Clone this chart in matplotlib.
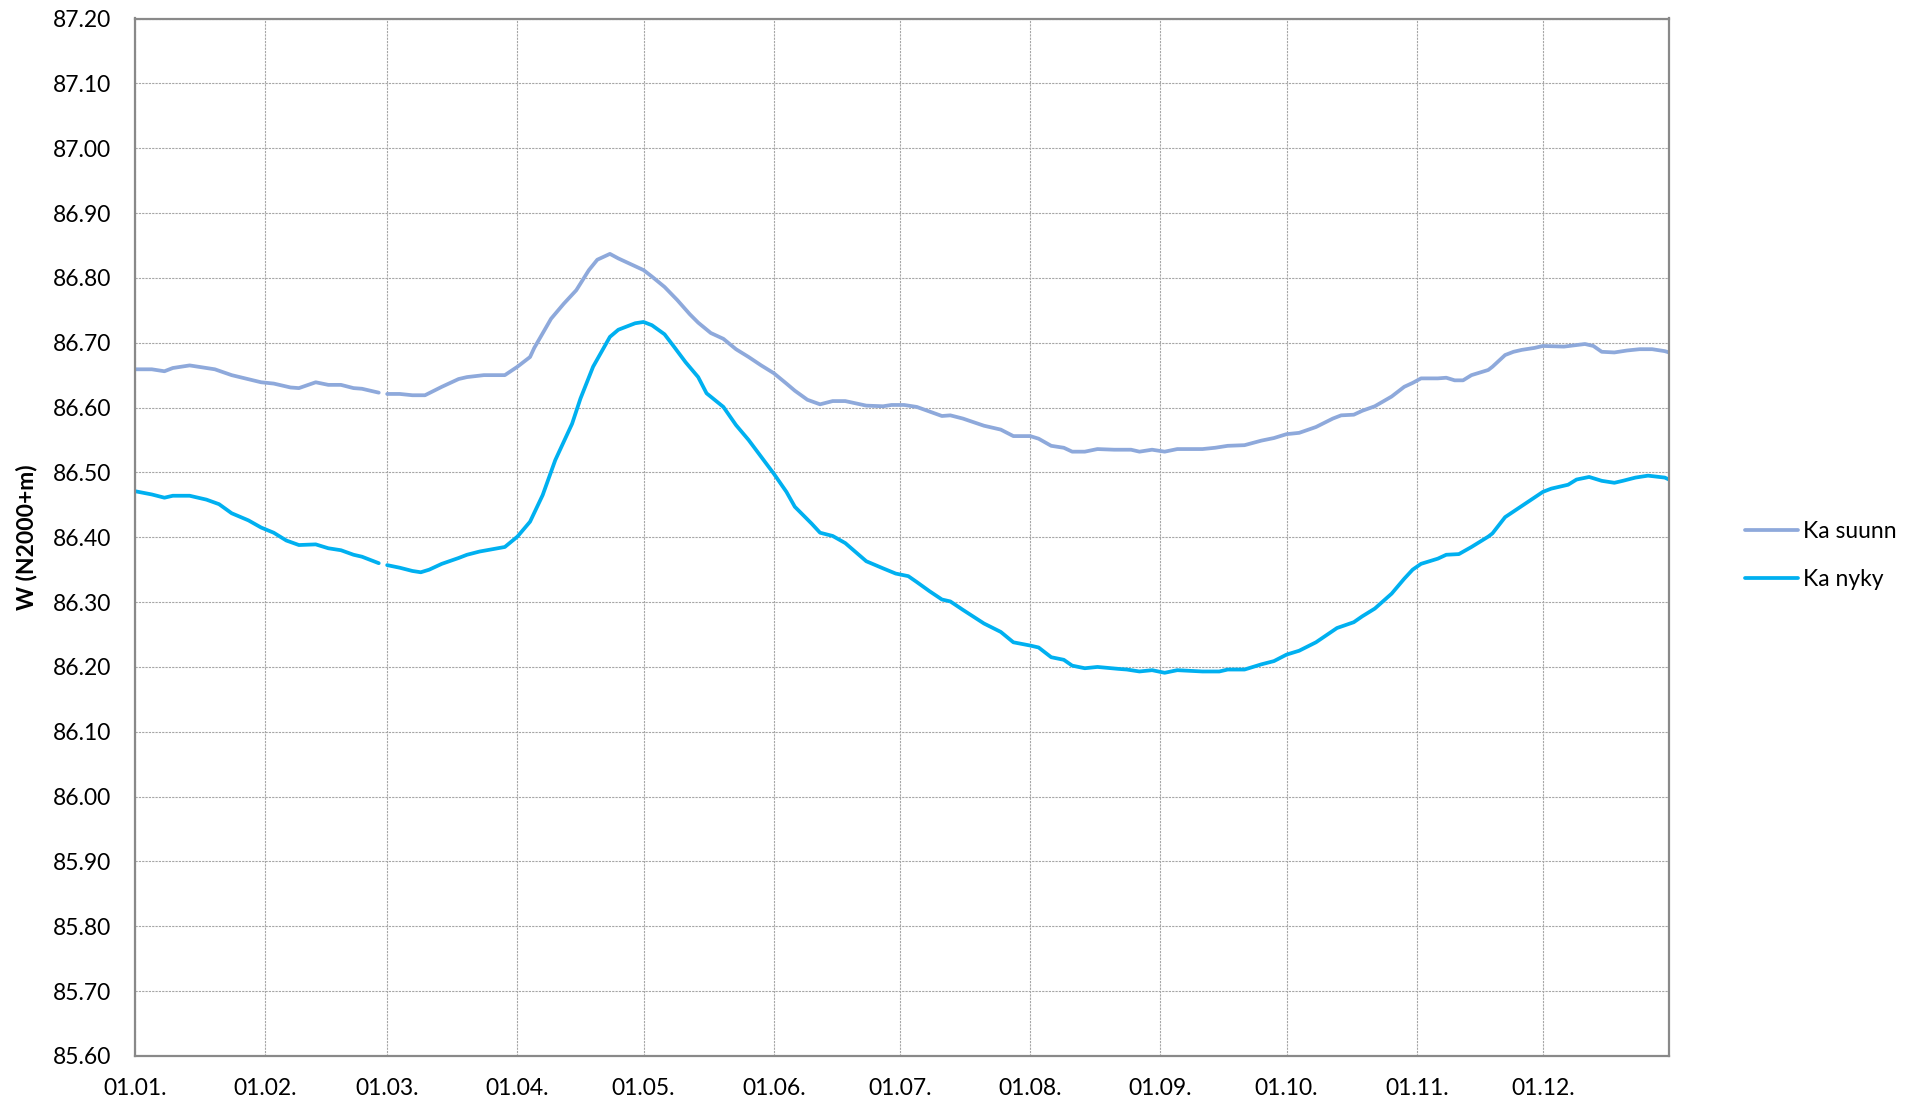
import matplotlib
matplotlib.use("Agg")
import matplotlib.pyplot as plt
import numpy as np

plt.rcParams['font.family'] = ['Lato', 'DejaVu Sans']

# month starts (leap year day index) and labels
month_days = [0, 31, 60, 91, 121, 152, 182, 213, 244, 274, 305, 335]
month_labels = ["01.01.", "01.02.", "01.03.", "01.04.", "01.05.", "01.06.",
                "01.07.", "01.08.", "01.09.", "01.10.", "01.11.", "01.12."]

# Ka suunn, gap on 29.2.
suunn_days = [0, 4, 7, 9, 13, 19, 23, 30, 33, 37, 39, 43, 46, 49, 52, 54, 58, 59,
              60, 63, 66, 69, 73, 77, 79, 83, 88, 91, 94, 95, 99, 102, 105, 108,
              110, 113, 115, 118, 121, 123, 126, 129, 132, 134, 137, 140, 143,
              146, 149, 152, 155, 157, 160, 163, 166, 169, 174, 178, 180, 183,
              186, 189, 192, 194, 197, 202, 206, 209, 213, 215, 218, 221, 223,
              226, 229, 233, 237, 239, 242, 245, 248, 254, 257, 260, 264, 268,
              271, 274, 277, 281, 285, 287, 290, 292, 295, 299, 302, 304, 306,
              310, 312, 314, 316, 318, 322, 323, 326, 328, 330, 333, 335, 340,
              345, 347, 349, 352, 355, 358, 361, 364, 365]
suunn_vals = [86.659, 86.659, 86.656, 86.661, 86.665, 86.659, 86.650, 86.639,
              86.637, 86.631, 86.630, 86.639, 86.635, 86.635, 86.630, 86.629,
              86.623, np.nan, 86.621, 86.621, 86.619, 86.619, 86.632, 86.644,
              86.647, 86.650, 86.650, 86.663, 86.678, 86.692, 86.737, 86.760,
              86.781, 86.812, 86.828, 86.837, 86.830, 86.821, 86.812, 86.802,
              86.786, 86.766, 86.744, 86.731, 86.715, 86.706, 86.690, 86.678,
              86.665, 86.653, 86.637, 86.626, 86.612, 86.605, 86.610, 86.610,
              86.603, 86.602, 86.604, 86.604, 86.601, 86.594, 86.587, 86.588,
              86.583, 86.572, 86.566, 86.556, 86.556, 86.552, 86.541, 86.538,
              86.532, 86.532, 86.536, 86.535, 86.535, 86.532, 86.535, 86.532,
              86.536, 86.536, 86.538, 86.541, 86.542, 86.549, 86.553, 86.559,
              86.561, 86.570, 86.583, 86.588, 86.589, 86.595, 86.602, 86.617,
              86.632, 86.638, 86.645, 86.645, 86.646, 86.642, 86.642, 86.650,
              86.658, 86.663, 86.681, 86.686, 86.689, 86.692, 86.695, 86.694,
              86.698, 86.695, 86.686, 86.685, 86.688, 86.690, 86.690, 86.687,
              86.685]

# Ka nyky
nyky_days = [0, 4, 7, 9, 13, 17, 20, 23, 27, 30, 33, 36, 39, 43, 46, 49, 52, 54,
             58, 59, 60, 63, 66, 68, 70, 73, 77, 79, 82, 88, 91, 94, 97, 100,
             104, 106, 109, 113, 115, 119, 121, 123, 126, 128, 131, 134, 136,
             140, 143, 146, 149, 152, 155, 157, 161, 163, 166, 169, 174, 178,
             181, 184, 186, 189, 192, 194, 197, 202, 206, 209, 213, 215, 218,
             221, 223, 226, 229, 234, 236, 239, 242, 245, 248, 254, 258, 260,
             264, 268, 271, 274, 277, 281, 286, 290, 292, 295, 299, 302, 304,
             306, 310, 312, 315, 318, 322, 323, 326, 329, 332, 335, 337, 341,
             343, 346, 349, 352, 354, 357, 360, 364, 365]
nyky_vals = [86.471, 86.466, 86.461, 86.464, 86.464, 86.458, 86.451, 86.437,
             86.426, 86.415, 86.407, 86.395, 86.388, 86.389, 86.383, 86.380,
             86.373, 86.370, 86.360, np.nan, 86.357, 86.353, 86.348, 86.346,
             86.350, 86.359, 86.368, 86.373, 86.378, 86.385, 86.401, 86.424,
             86.465, 86.519, 86.575, 86.614, 86.663, 86.709, 86.720, 86.730,
             86.732, 86.727, 86.713, 86.696, 86.670, 86.647, 86.622, 86.601,
             86.573, 86.550, 86.524, 86.498, 86.470, 86.447, 86.421, 86.407,
             86.402, 86.391, 86.363, 86.352, 86.344, 86.340, 86.331, 86.317,
             86.304, 86.301, 86.288, 86.267, 86.254, 86.238, 86.233, 86.230,
             86.215, 86.211, 86.202, 86.198, 86.200, 86.197, 86.196, 86.193,
             86.195, 86.191, 86.195, 86.193, 86.193, 86.196, 86.196, 86.204,
             86.209, 86.219, 86.225, 86.238, 86.260, 86.269, 86.278, 86.290,
             86.313, 86.336, 86.350, 86.359, 86.367, 86.373, 86.374, 86.385,
             86.401, 86.406, 86.431, 86.444, 86.457, 86.470, 86.475, 86.481,
             86.489, 86.493, 86.487, 86.484, 86.487, 86.492, 86.495, 86.492,
             86.489]

fig = plt.figure(figsize=(19.23, 11.04), dpi=100)
ax = fig.add_axes([135/1923, 1-1056/1104, (1669-135)/1923, (1056-18.5)/1104])

ax.plot(suunn_days, suunn_vals, color='#8EA9DB', lw=2.7, label='Ka suunn',
        solid_capstyle='round', solid_joinstyle='round')
ax.plot(nyky_days, nyky_vals, color='#00B0F0', lw=2.7, label='Ka nyky',
        solid_capstyle='round', solid_joinstyle='round')

ax.set_xlim(0, 365)
ax.set_ylim(85.6, 87.2)
ax.set_xticks(month_days)
ax.set_xticklabels(month_labels)
ax.set_yticks(np.arange(85.6, 87.21, 0.1))
ax.yaxis.set_major_formatter(matplotlib.ticker.FormatStrFormatter('%.2f'))
ax.tick_params(axis='both', length=0, labelsize=16.5, colors='black')
ax.tick_params(axis='y', pad=17)
ax.tick_params(axis='x', pad=16)

ax.grid(True, color='#a6a6a6', linestyle=(0, (2, 1)), linewidth=0.8)
ax.set_axisbelow(True)
for s in ax.spines.values():
    s.set_color('#898989')
    s.set_linewidth(1.6)

fig.text(27/1923, 1-537/1104, 'W (N2000+m)', rotation=90, fontsize=16.5,
         fontweight='bold', ha='center', va='center')

fig.legend(loc='upper left', bbox_to_anchor=(1745/1923, 1-521/1104),
           frameon=False, fontsize=16.5, handlelength=2.3, handletextpad=0.25,
           labelspacing=1.2, borderpad=0, borderaxespad=0)

fig.savefig('out.png', dpi=100, facecolor='white')
